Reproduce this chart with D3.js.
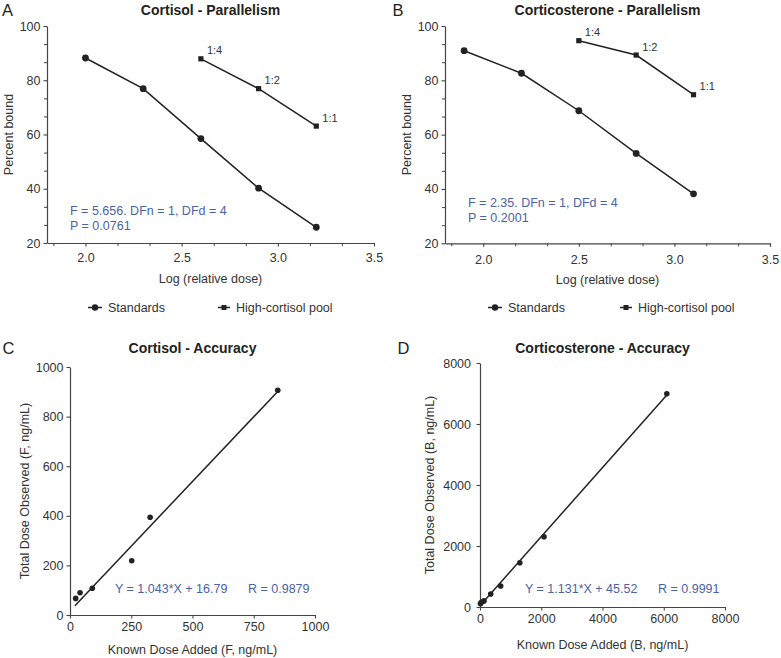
<!DOCTYPE html>
<html><head><meta charset="utf-8">
<script src="https://cdn.jsdelivr.net/npm/d3@7"></script>
<style>
body{margin:0;background:#fff}
text{font-family:"Liberation Sans",Arial,Helvetica,sans-serif}
</style>
</head><body><svg id="chart" width="781" height="658"></svg>
<script>
// ---------- data ----------
const logDoseStdA = [2.0, 2.3, 2.6, 2.9, 3.2];
const boundStdA = [88.2, 76.9, 58.5, 40.2, 25.8];
const logDosePoolA = [2.6, 2.9, 3.2];
const boundPoolA = [87.9, 76.9, 63.1];
const logDoseStdB = [1.9, 2.2, 2.5, 2.8, 3.1];
const boundStdB = [90.9, 82.6, 68.8, 53.1, 38.2];
const logDosePoolB = [2.5, 2.8, 3.1];
const boundPoolB = [94.6, 89.3, 74.7];
const poolLabels = ["1:4", "1:2", "1:1"];
const addedC = [23, 41, 91, 252, 327, 848];
const observedC = [67, 90, 108, 219, 394, 906];
const addedD = [15, 55, 130, 350, 675, 1300, 2090, 6100];
const observedD = [110, 165, 200, 425, 690, 1450, 2305, 6990];
const fitC = [1.043, 16.79];   // slope, intercept
const fitRangeC = [20, 845];
const fitD = [1.131, 45.52];
const fitRangeD = [20, 6095];
const parTicksX = [2.0, 2.5, 3.0, 3.5];
const parTicksY = [20, 40, 60, 80, 100];
const accTicksC = [0, 250, 500, 750, 1000];
const accTicksCY = [0, 200, 400, 600, 800, 1000];
const accTicksD = [0, 2000, 4000, 6000, 8000];
const legendNames = ["Standards", "High-cortisol pool"];
const statsA = ["F = 5.656. DFn = 1, DFd = 4", "P = 0.0761"];
const statsB = ["F = 2.35. DFn = 1, DFd = 4", "P = 0.2001"];
const statsC = ["Y = 1.043*X + 16.79", "R = 0.9879"];
const statsD = ["Y = 1.131*X + 45.52", "R = 0.9991"];

// ---------- drawing ----------
const svg = d3.select("#chart");
const AX = "#444", INK = "#222", TXT = "#333", BLUE = "#4b62a6";

function styleAxis(g){
  g.select(".domain").attr("stroke", AX).attr("stroke-width", 1.2);
  g.selectAll(".tick line").attr("stroke", AX).attr("stroke-width", 1.1);
  g.selectAll(".tick text").attr("fill", TXT).style("font-size", "12.5px")
    .style("font-family", '"Liberation Sans",Arial,sans-serif');
}
function minors(domain, majorStep, n){
  const out = [];
  const step = majorStep / n;
  const start = Math.ceil(domain[0] / step - 1e-6);
  for (let k = start; k * step <= domain[1] + 1e-9; k++){
    const v = k * step;
    if (Math.abs(v / majorStep - Math.round(v / majorStep)) > 1e-6) out.push(v);
  }
  return out;
}

function panel(o){
  const g = svg.append("g");
  const x = d3.scaleLinear().domain(o.xd).range(o.xr);
  const y = d3.scaleLinear().domain(o.yd).range(o.yr);
  // minor ticks
  if (o.minor){
    g.append("g").attr("transform", `translate(0,${o.yr[0]})`)
      .call(d3.axisBottom(x).tickValues(minors(o.xd, o.xStep, 3)).tickFormat("").tickSize(3).tickSizeOuter(0))
      .call(s => { s.select(".domain").remove(); s.selectAll("line").attr("stroke", AX); });
    g.append("g").attr("transform", `translate(${o.xr[0]},0)`)
      .call(d3.axisLeft(y).tickValues(minors(o.yd, o.yStep, 3)).tickFormat("").tickSize(3).tickSizeOuter(0))
      .call(s => { s.select(".domain").remove(); s.selectAll("line").attr("stroke", AX); });
  }
  g.append("g").attr("transform", `translate(0,${o.yr[0]})`)
    .call(d3.axisBottom(x).tickValues(o.xt).tickFormat(o.xf).tickSize(3.5).tickSizeOuter(0).tickPadding(o.xpad))
    .call(styleAxis);
  g.append("g").attr("transform", `translate(${o.xr[0]},0)`)
    .call(d3.axisLeft(y).tickValues(o.yt).tickFormat(d3.format("d")).tickSize(3.5).tickSizeOuter(0).tickPadding(o.ypad))
    .call(styleAxis);
  const cx = (o.xr[0] + o.xr[1]) / 2, cy = (o.yr[0] + o.yr[1]) / 2;
  g.append("text").attr("x", cx).attr("y", o.titleY).attr("text-anchor", "middle")
    .attr("fill", INK).style("font-size", "14px").style("font-weight", "bold").text(o.title);
  g.append("text").attr("x", o.letterX).attr("y", o.titleY + 1).attr("fill", INK)
    .style("font-size", "16.5px").text(o.letter);
  g.append("text").attr("x", cx).attr("y", o.xlabY).attr("text-anchor", "middle")
    .attr("fill", TXT).style("font-size", "12.5px").text(o.xlab);
  g.append("text").attr("transform", `translate(${o.ylabX},${cy}) rotate(-90)`).attr("text-anchor", "middle")
    .attr("fill", TXT).style("font-size", "12.5px").text(o.ylab);
  return {g, x, y};
}

function parallelism(o, xs, ys, xp, yp, stats){
  const {g, x, y} = panel(o);
  const line = d3.line().x(d => x(d[0])).y(d => y(d[1]));
  const std = xs.map((v, i) => [v, ys[i]]);
  const pool = xp.map((v, i) => [v, yp[i]]);
  g.append("path").attr("d", line(std)).attr("fill", "none").attr("stroke", INK).attr("stroke-width", 1.5);
  g.append("path").attr("d", line(pool)).attr("fill", "none").attr("stroke", INK).attr("stroke-width", 1.5);
  g.selectAll(".std").data(std).join("circle").attr("cx", d => x(d[0])).attr("cy", d => y(d[1]))
    .attr("r", 3.4).attr("fill", INK);
  g.selectAll(".pool").data(pool).join("rect").attr("x", d => x(d[0]) - 2.6).attr("y", d => y(d[1]) - 2.6)
    .attr("width", 5.2).attr("height", 5.2).attr("fill", INK);
  g.selectAll(".lab").data(pool).join("text").attr("x", d => x(d[0]) + 6).attr("y", d => y(d[1]) - 4.5)
    .attr("fill", TXT).style("font-size", "11px").text((d, i) => poolLabels[i]);
  g.selectAll(".stat").data(stats).join("text").attr("x", o.statX).attr("y", (d, i) => o.statY + i * 15)
    .attr("fill", BLUE).style("font-size", "12.5px").text(d => d);
  // legend
  const ly = 307.5;
  const L = g.append("g");
  L.append("line").attr("x1", o.leg[0]).attr("x2", o.leg[0] + 14).attr("y1", ly).attr("y2", ly).attr("stroke", INK).attr("stroke-width", 1.5);
  L.append("circle").attr("cx", o.leg[0] + 7).attr("cy", ly).attr("r", 3.2).attr("fill", INK);
  L.append("text").attr("x", o.leg[0] + 20).attr("y", ly + 4.5).attr("fill", TXT).style("font-size", "12.5px").text(legendNames[0]);
  L.append("line").attr("x1", o.leg[1]).attr("x2", o.leg[1] + 12).attr("y1", ly).attr("y2", ly).attr("stroke", INK).attr("stroke-width", 1.5);
  L.append("rect").attr("x", o.leg[1] + 3.5).attr("y", ly - 2.5).attr("width", 5).attr("height", 5).attr("fill", INK);
  L.append("text").attr("x", o.leg[1] + 18).attr("y", ly + 4.5).attr("fill", TXT).style("font-size", "12.5px").text(legendNames[1]);
}

function accuracy(o, xs, ys, fit, fr, stats){
  const {g, x, y} = panel(o);
  g.append("line").attr("x1", x(fr[0])).attr("y1", y(fit[0] * fr[0] + fit[1]))
    .attr("x2", x(fr[1])).attr("y2", y(fit[0] * fr[1] + fit[1]))
    .attr("stroke", INK).attr("stroke-width", 1.5);
  g.selectAll(".pt").data(xs.map((v, i) => [v, ys[i]])).join("circle")
    .attr("cx", d => x(d[0])).attr("cy", d => y(d[1])).attr("r", 2.8).attr("fill", INK);
  g.append("text").attr("x", o.statX[0]).attr("y", o.statY).attr("fill", BLUE).style("font-size", "12.5px").text(stats[0]);
  g.append("text").attr("x", o.statX[1]).attr("y", o.statY).attr("fill", BLUE).style("font-size", "12.5px").text(stats[1]);
}

const f1 = d3.format(".1f");
parallelism({xd:[1.8,3.5], xr:[47,374], yd:[20,100], yr:[243,26], minor:true, xStep:0.5, yStep:20,
  xt:parTicksX, yt:parTicksY, xf:f1, xpad:7, ypad:3,
  title:"Cortisol - Parallelism", letter:"A", letterX:2, titleY:15, xlab:"Log (relative dose)", xlabY:283,
  ylab:"Percent bound", ylabX:12.5, statX:70, statY:215, leg:[88,218]},
  logDoseStdA, boundStdA, logDosePoolA, boundPoolA, statsA);
parallelism({xd:[1.8,3.5], xr:[445,770], yd:[20,100], yr:[243.3,26], minor:true, xStep:0.5, yStep:20,
  xt:parTicksX, yt:parTicksY, xf:f1, xpad:8, ypad:3,
  title:"Corticosterone - Parallelism", letter:"B", letterX:392.5, titleY:15, xlab:"Log (relative dose)", xlabY:283.5,
  ylab:"Percent bound", ylabX:410.5, statX:468, statY:206.5, leg:[488,620]},
  logDoseStdB, boundStdB, logDosePoolB, boundPoolB, statsB);
accuracy({xd:[0,1000], xr:[70,315], yd:[0,1000], yr:[615,367], minor:false,
  xt:accTicksC, yt:accTicksCY, xf:d3.format("d"), xpad:4, ypad:3,
  title:"Cortisol - Accuracy", letter:"C", letterX:2.5, titleY:353, xlab:"Known Dose Added (F, ng/mL)", xlabY:654,
  ylab:"Total Dose Observed (F, ng/mL)", ylabX:29, statX:[115,248], statY:592.5},
  addedC, observedC, fitC, fitRangeC, statsC);
accuracy({xd:[0,8000], xr:[480,725], yd:[0,8000], yr:[607,363], minor:false,
  xt:accTicksD, yt:accTicksD, xf:d3.format("d"), xpad:4, ypad:5.5,
  title:"Corticosterone - Accuracy", letter:"D", letterX:397.5, titleY:353, xlab:"Known Dose Added (B, ng/mL)", xlabY:649,
  ylab:"Total Dose Observed (B, ng/mL)", ylabX:434, statX:[525,658], statY:592.5},
  addedD, observedD, fitD, fitRangeD, statsD);
</script>
</body></html>
